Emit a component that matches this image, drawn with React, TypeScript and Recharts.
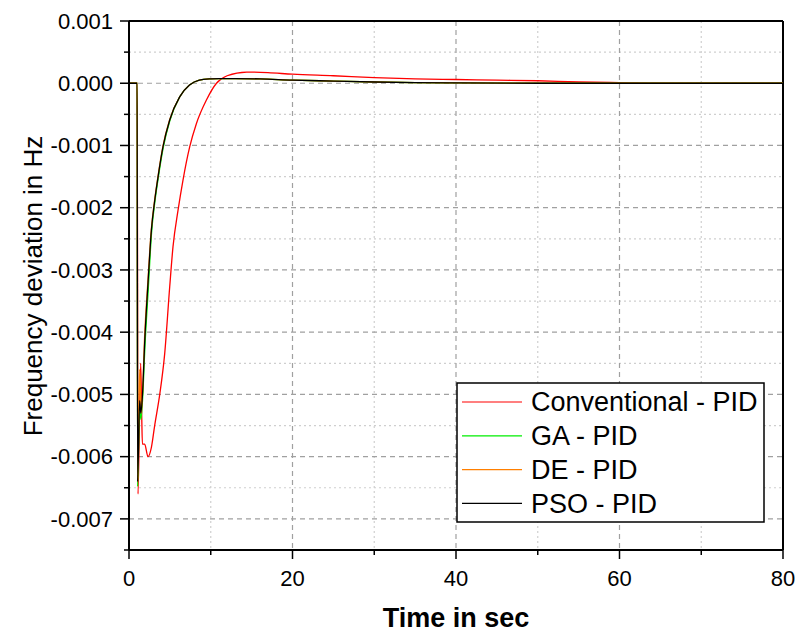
import React from 'react';
import { LineChart, Line, XAxis, YAxis, CartesianGrid, ReferenceLine } from 'recharts';

// ---- Data (time in sec, frequency deviation in Hz) ----
const convT = [0, 1.0, 1.1, 1.43, 1.55, 1.64, 1.92, 2.32, 2.74, 3.14, 3.76, 4.37, 4.98, 5.38, 6.0, 6.6, 7.43, 8.24, 9.47, 10.7, 12, 14.4, 17, 20, 25, 30, 35, 40, 45, 50, 55, 60, 67, 80];
const convV = [0, 0, -0.0066, -0.0045, -0.0053, -0.0058, -0.0058, -0.006, -0.00585, -0.0055, -0.005, -0.00434, -0.00327, -0.00263, -0.00204, -0.00156, -0.00102, -0.00065, -0.00027, 0, 0.00012, 0.00018, 0.00017, 0.000145, 0.00012, 0.00009, 0.00007, 0.00006, 0.00005, 0.00004, 0.00002, 0.00001, 0, 0];

const gaT = [0, 1.0, 1.05, 1.3, 1.45, 1.65, 1.96, 2.36, 2.76, 3.17, 3.58, 4.18, 5.0, 6.2, 7.4, 8.6, 10, 11, 13, 16, 20, 25, 30, 35, 40, 50, 80];
const gaV = [0, 0, -0.00648, -0.0052, -0.0054, -0.0051, -0.0042, -0.0033, -0.0024, -0.0019, -0.00152, -0.00104, -0.0006, -0.00022, -0.00003, 0.00005, 0.00007, 0.000075, 0.000075, 0.00007, 0.00005, 0.000035, 0.00002, 0.00001, 0.000005, 0, 0];

const deT = [0, 1.0, 1.05, 1.3, 1.5, 1.65, 1.9, 2.3, 2.72, 3.13, 3.54, 4.14, 4.96, 6.2, 7.4, 8.6, 10, 11, 13, 16, 20, 25, 30, 35, 40, 50, 80];
const deV = [0, 0, -0.0064, -0.0046, -0.0053, -0.005, -0.0041, -0.0032, -0.00236, -0.00188, -0.0015, -0.00102, -0.00059, -0.00022, -0.00003, 0.00005, 0.00007, 0.000075, 0.000075, 0.00007, 0.00005, 0.000035, 0.00002, 0.00001, 0.000005, 0, 0];

const psoT = [0, 1.0, 1.05, 1.3, 1.45, 1.65, 1.94, 2.33, 2.74, 3.15, 3.56, 4.16, 4.98, 6.2, 7.4, 8.6, 10, 11, 13, 16, 20, 25, 30, 35, 40, 50, 80];
const psoV = [0, 0, -0.0064, -0.0051, -0.0053, -0.005, -0.0041, -0.0032, -0.00236, -0.00188, -0.0015, -0.00102, -0.00059, -0.00022, -0.00003, 0.00005, 0.00007, 0.000075, 0.000075, 0.00007, 0.00005, 0.000035, 0.00002, 0.00001, 0.000005, 0, 0];

const seriesNames = ['Conventional - PID', 'GA - PID', 'DE - PID', 'PSO - PID'];
const seriesColors = ['#ff0000', '#00ee00', '#ff7f00', '#000000'];

const xTicks = [0, 10, 20, 30, 40, 50, 60, 70, 80];
const xMajor = [0, 20, 40, 60, 80];
const yTicks = [-0.0075, -0.007, -0.0065, -0.006, -0.0055, -0.005, -0.0045, -0.004, -0.0035, -0.003, -0.0025, -0.002, -0.0015, -0.001, -0.0005, 0, 0.0005, 0.001];

const zip = (t: number[], v: number[]) => t.map((x, i) => ({ t: x, v: v[i] }));
const series = [zip(convT, convV), zip(gaT, gaV), zip(deT, deV), zip(psoT, psoV)];

const FONT = '"Liberation Sans", Arial, sans-serif';

const isMajorY = (v: number) => Math.abs(Math.round(v * 10000)) % 10 === 0;

const YTick = (props: any) => {
  const { x, y, payload } = props;
  const major = isMajorY(payload.value);
  const len = major ? 9 : 5;
  const s = payload.value.toFixed(3);
  return (
    <g>
      <line x1={x - len} x2={x} y1={y} y2={y} stroke="#000" strokeWidth={1.5} />
      {major && (
        <text x={x - 16} y={y} dy="0.35em" textAnchor="end" fontSize={22} fontFamily={FONT} fill="#000">
          {s === '-0.000' ? '0.000' : s}
        </text>
      )}
    </g>
  );
};

const XTick = (props: any) => {
  const { x, y, payload } = props;
  const major = xMajor.includes(payload.value);
  const len = major ? 9 : 5;
  return (
    <g>
      <line x1={x} x2={x} y1={y} y2={y + len} stroke="#000" strokeWidth={1.5} />
      {major && (
        <text x={x} y={y + 36} textAnchor="middle" fontSize={22} fontFamily={FONT} fill="#000">
          {payload.value}
        </text>
      )}
    </g>
  );
};

const LegendBox = () => (
  <svg width={310} height={142} style={{ display: 'block' }}>
    <rect x={1} y={1} width={307} height={139} fill="#fff" stroke="#000" strokeWidth={1.5} />
    {seriesNames.map((n, i) => (
      <g key={n}>
        <line x1={6} x2={66} y1={20 + i * 33.8} y2={20 + i * 33.8} stroke={seriesColors[i]} strokeWidth={1.2} />
        <text x={75} y={20 + i * 33.8} dy="0.35em" fontSize={27} fontFamily={FONT} fill="#000">{n}</text>
      </g>
    ))}
  </svg>
);

export default function App() {
  return (
    <div style={{ position: 'absolute', left: 0, top: 0, width: 797, height: 634, background: '#fff' }}>
      <LineChart width={797} height={634} margin={{ top: 21, right: 14, bottom: 24, left: 29 }}>
        <CartesianGrid
          horizontalValues={yTicks.filter((v) => !isMajorY(v))}
          verticalValues={xTicks.filter((v) => !xMajor.includes(v))}
          stroke="#cfcfcf"
          strokeDasharray="2 3"
          strokeWidth={1.2}
        />
        <CartesianGrid
          horizontalValues={yTicks.filter((v) => isMajorY(v))}
          verticalValues={xMajor}
          stroke="#a0a0a0"
          strokeDasharray="5 4"
          strokeWidth={1.2}
        />
        <XAxis
          type="number"
          dataKey="t"
          domain={[0, 80]}
          ticks={xTicks}
          interval={0}
          allowDataOverflow
          height={60}
          tickSize={0}
          tickMargin={0}
          tick={<XTick />}
          axisLine={{ stroke: '#000', strokeWidth: 2 }}
          tickLine={false}
          label={{
            content: () => (
              <text x={456} y={627} textAnchor="middle" fontSize={27} fontWeight="bold" fontFamily={FONT} fill="#000">
                Time in sec
              </text>
            ),
          }}
        />
        <YAxis
          type="number"
          domain={[-0.0075, 0.001]}
          ticks={yTicks}
          interval={0}
          allowDataOverflow
          width={100}
          tickSize={0}
          tickMargin={0}
          tick={<YTick />}
          axisLine={{ stroke: '#000', strokeWidth: 2 }}
          tickLine={false}
          label={{
            content: () => (
              <text x={42} y={286} transform="rotate(-90 42 286)" textAnchor="middle" fontSize={26} fontFamily={FONT} fill="#000">
                Frequency deviation in Hz
              </text>
            ),
          }}
        />
        <ReferenceLine y={0.001} stroke="#000" strokeWidth={2} />
        <ReferenceLine x={80} stroke="#000" strokeWidth={2} />
        {series.map((d, i) => (
          <Line
            key={seriesNames[i]}
            data={d}
            dataKey="v"
            name={seriesNames[i]}
            type="monotone"
            stroke={seriesColors[i]}
            strokeWidth={1.3}
            dot={false}
            activeDot={false}
            isAnimationActive={false}
          />
        ))}
      </LineChart>
      <div style={{ position: 'absolute', left: 456, top: 382 }}>
        <LegendBox />
      </div>
    </div>
  );
}
